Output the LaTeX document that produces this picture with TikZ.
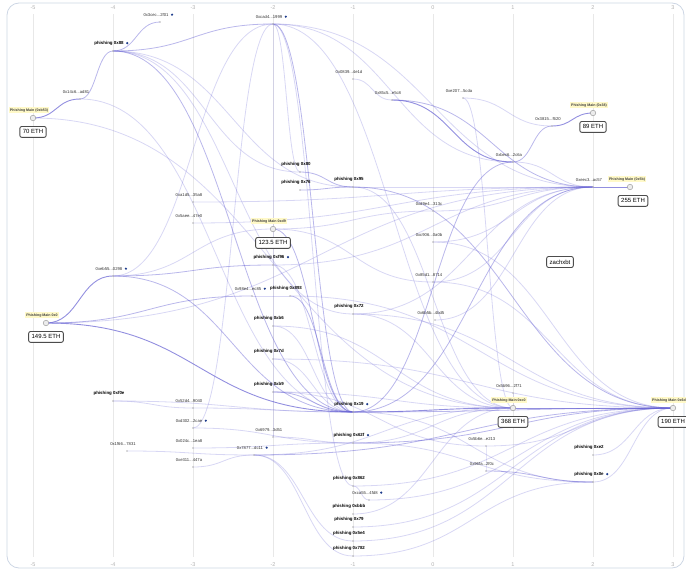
\documentclass[tikz,border=0pt]{standalone}
\usepackage{fontspec}
\setmainfont{Liberation Sans}
\usetikzlibrary{positioning,calc,backgrounds}

\definecolor{flowc}{RGB}{100,95,210}
\definecolor{framec}{RGB}{205,214,228}
\definecolor{hilite}{RGB}{255,249,200}
\definecolor{flagc}{RGB}{30,60,140}

\newcommand{\elid}{...}

\tikzset{
  dot/.style={circle,fill=gray!55,inner sep=0pt,minimum size=1.8pt},
  mainpt/.style={circle,draw=gray!75,fill=gray!15,line width=.5pt,inner sep=0pt,minimum size=5.5pt},
  addr/.style={font=\fontsize{4.2}{5}\selectfont,text=black!80,inner sep=.5pt},
  phish/.style={font=\bfseries\fontsize{4.4}{5}\selectfont,inner sep=.5pt},
  mainlbl/.style={font=\bfseries\fontsize{3.6}{4}\selectfont,fill=hilite,inner sep=1pt,text=black!75},
  ethbox/.style={draw=black!70,line width=.9pt,rounded corners=2pt,fill=white,
    font=\fontsize{6}{7}\selectfont,minimum height=10pt,inner xsep=3pt},
  flag/.style={circle,fill=flagc,inner sep=0pt,minimum size=2.4pt},
  axlbl/.style={font=\fontsize{5.5}{6}\selectfont,text=gray!60},
  w1/.style={draw=flowc,opacity=.25,line width=.8pt},
  w2/.style={draw=flowc,opacity=.45,line width=.8pt},
  w3/.style={draw=flowc,opacity=.7,line width=.9pt},
}

\begin{document}
\begin{tikzpicture}[x=1pt,y=-1pt]
    \useasboundingbox (0,0) rectangle (686,570);

    % phishing main wallets
    \foreach \nm/\px/\py/\txt/\eth in {
        m0b53/33/118/Phishing Main (0xb53)/70 ETH,
        m038/593/113/Phishing Main (0x38)/89 ETH,
        md9/273/229/Phishing Main 0xd9/123.5 ETH,
        m00/46/323/Phishing Main 0x0/149.5 ETH,
        mc0/513/408/Phishing Main 0xc0/368 ETH,
        m06d/673/408/Phishing Main 0x6d/190 ETH}
    {
        \node[mainpt] (\nm) at (\px,\py) {};
        \node[mainlbl, above=2pt of \nm, xshift=-4pt] (\nm-l) {\txt};
        \node[ethbox, below=5pt of \nm] (\nm-e) {\eth};
    }
    \node[mainpt] (m05b) at (630,187) {};
    \node[mainlbl, above=2pt of m05b, xshift=-3pt] (m05b-l) {Phishing Main (0x5b)};
    \node[ethbox, below=5pt of m05b, xshift=3pt] (m05b-e) {255 ETH};

    % intermediate addresses
    \foreach \nm/\px/\py/\txt in {
        a14c6/80/99/0x14c6\elid ad81, a3cec/160/22/0x3cec\elid 2f01,
        acad4/273/24/0xcad4\elid 1999, a0839/353/79/0x0839\elid 4e1d,
        a85c5/392/100/0x85c5\elid e5c8, ae207/463/98/0xe207\elid 5cda,
        a3815/552/126/0x3815\elid f620, abec6/513/162/0xbec6\elid 2c6a,
        aeec3/593/187/0xeec3\elid ac57, aa1d5/193/202/0xa1d5\elid 35a8,
        a5aee/193/223/0x5aee\elid 47e0, ad9e4/433/211/0xd9e4\elid 313c,
        ac906/433/242/0xc906\elid 0a0b, a85d1/433/282/0x85d1\elid 8714,
        aeb55/113/276/0xeb55\elid 0298, a98e4/252/296/0x98e4\elid ec85,
        a6b5b/435/320/0x6b5b\elid 4bd5, a5b96/513/393/0x5b96\elid 2f71,
        a52d4/193/408/0x52d4\elid 9040, ad302/193/428/0xd302\elid 2cae,
        a1f66/127/451/0x1f66\elid 7831, a024c/193/448/0x024c\elid 1ea8,
        ae311/193/467/0xe311\elid 447a, a6979/273/437/0x6979\elid 3d51,
        a7877/254/455/0x7877\elid dc11, aca55/369/500/0xca55\elid 4fd8,
        a5b6e/486/446/0x5b6e\elid e213, a96fa/486/471/0x96fa\elid 2f0c}
    {
        \node[dot] (\nm) at (\px,\py) {};
        \node[addr, above=4pt of \nm, xshift=-4pt] (\nm-l) {\txt};
    }

    % phishing addresses
    \foreach \nm/\px/\py/\txt in {
        p88/113/51/phishing 0x88, p80/300/172/phishing 0x80,
        p76/300/190/phishing 0x76, p95/353/187/phishing 0x95,
        pf96/273/265/phishing 0xf96, p893/290/296/phishing 0x893,
        p72/353/314/phishing 0x72, pb6/273/326/phishing 0xb6,
        p7d/273/359/phishing 0x7d, pb9/273/392/phishing 0xb9,
        p19/353/412/phishing 0x19, pf0e/113/401/phishing 0xf0e,
        p62f/353/443/phishing 0x62f, p862/353/486/phishing 0x862,
        pbbb/353/514/phishing 0xbbb, p79/353/527/phishing 0x79,
        p5e4/353/541/phishing 0x5e4, p782/353/556/phishing 0x782,
        pe2/593/455/phishing 0xe2, p0e/593/482/phishing 0x0e}
    {
        \node[dot] (\nm) at (\px,\py) {};
        \node[phish, above=4pt of \nm, xshift=-4pt] (\nm-l) {\txt};
    }

    % flagged
    \foreach \nm in {a3cec,p88,acad4,aeb55,pf96,a98e4,p19,ad302,a7877,p62f,aca55,p0e}
        \node[flag, right=1.5pt of \nm-l] (\nm-f) {};

    \node[ethbox] (zach) at (560,262) {zachxbt};

    %axis
    \foreach \v [count=\k from 0] in {-5,-4,-3,-2,-1,0,1,2,3} {
        \node[axlbl] (top\k) at ({33+80*\k},8) {\v};
        \node[axlbl] (bot\k) at ({33+80*\k},565) {\v};
    }

    \begin{scope}[on background layer]
        \draw[framec, line width=.8pt, rounded corners=12pt] (7,3) rectangle (684,568);
        \foreach \k in {0,...,8}
            \draw[gray!18, line width=.6pt] ({33+80*\k},14) -- ({33+80*\k},557);
        % flows
        \foreach \src/\dst/\wt in {
            m0b53/a14c6/w3, a14c6/p88/w2, p88/a3cec/w2, p88/acad4/w2,
            p88/p95/w1, p88/p19/w2, p88/p72/w1, p88/p80/w1,
            a14c6/p19/w1, m0b53/mc0/w1,
            aa1d5/aeec3/w1, a5aee/aeec3/w1, aeb55/acad4/w1, aeb55/pf96/w2,
            aeb55/p19/w2, aeb55/md9/w1, m00/aeb55/w3, m00/a98e4/w2,
            m00/p19/w3, m00/aeec3/w1,
            pf0e/a52d4/w1, pf0e/p19/w1, a52d4/p19/w1, ad302/acad4/w1,
            ad302/p62f/w1, a1f66/a7877/w1, a024c/p62f/w1, ae311/a7877/w1,
            acad4/a6979/w1, a6979/p62f/w1, a7877/p5e4/w1, a7877/m06d/w2,
            a7877/p782/w1, a7877/mc0/w1,
            acad4/p80/w1, acad4/p19/w2, acad4/abec6/w1, acad4/aeec3/w1,
            acad4/mc0/w1, acad4/p862/w1,
            p80/p95/w2, p76/p95/w2, p95/aeec3/w1, p95/m06d/w2, p95/mc0/w1,
            md9/ad9e4/w1, md9/p19/w2, md9/a85d1/w1,
            pf96/p19/w1, pf96/aeec3/w1, a98e4/p893/w1, p893/p19/w2,
            p893/m06d/w1, pb6/p19/w1, pb6/mc0/w1, p7d/p19/w1, p7d/m06d/w1,
            pb9/p19/w2, pb9/mc0/w1, p72/mc0/w1, p72/m06d/w1, p72/aeec3/w1,
            a0839/a85c5/w1, a85c5/abec6/w3, a85c5/aeec3/w2, ae207/a3815/w1,
            ae207/mc0/w1, abec6/a3815/w2, abec6/aeec3/w1, a3815/m038/w3,
            aeec3/m05b/w3, ad9e4/aeec3/w1, ac906/aeec3/w1, a85d1/aeec3/w1,
            a6b5b/aeec3/w1, a85d1/m06d/w1, ac906/m06d/w1,
            p19/aeec3/w2, p19/mc0/w3, p19/m06d/w2, p19/abec6/w2,
            a5b96/mc0/w1, mc0/m06d/w3, p62f/m06d/w2, p62f/mc0/w1,
            p862/m06d/w1, aca55/m06d/w1, pbbb/mc0/w1, p79/m06d/w1,
            p5e4/m06d/w1, p782/p0e/w1, a5b6e/a96fa/w1, a96fa/p0e/w2,
            a5b6e/m06d/w1, pe2/m06d/w1, p0e/m06d/w1, p62f/p0e/w1,
            p862/aca55/w1, p19/p0e/w1, pb9/a5b6e/w1}
            \draw[\wt] let \p1=(\src.center), \p2=(\dst.center) in
                (\p1) .. controls ({.5*\x1+.5*\x2},\y1) and ({.5*\x1+.5*\x2},\y2) .. (\p2);
    \end{scope}
\end{tikzpicture}
\end{document}
